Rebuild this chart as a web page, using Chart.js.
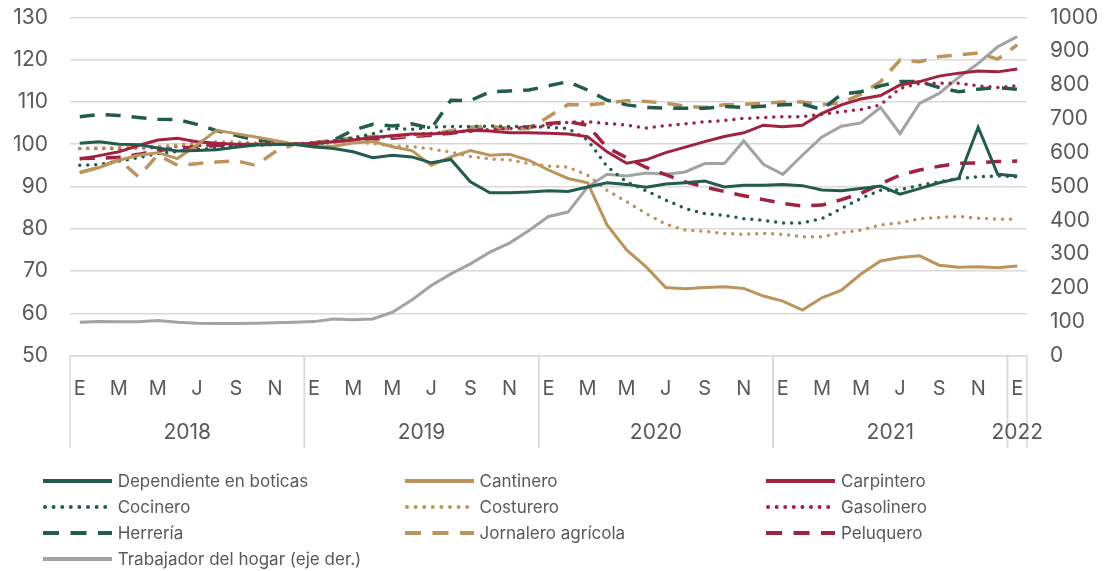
<!DOCTYPE html>
<html>
<head>
<meta charset="utf-8">
<script src="https://cdn.jsdelivr.net/npm/chart.js@4.4.1/dist/chart.umd.min.js"></script>
<style>
  html, body { margin: 0; padding: 0; background: #ffffff; }
  #wrap { position: relative; width: 1112px; height: 571px; overflow: hidden; }
  #chartBox { position: absolute; left: 0; top: 0; width: 1112px; height: 460px; }
  #legend { position: absolute; left: 0; top: 0; width: 1112px; height: 571px; pointer-events: none;
            font-family: Inter, "Open Sans", sans-serif; font-size: 17px; color: #595959; }
  .lg-item { position: absolute; height: 26px; display: flex; align-items: center; white-space: nowrap; }
  .lg-item svg { display: block; margin-right: 6px; }
</style>
</head>
<body>
<div id="wrap">
  <div id="chartBox"><canvas id="c"></canvas></div>
  <div id="legend"></div>
</div>
<script>
// ---------- data ----------
const monthLetters = ['E','F','M','A','M','J','J','A','S','O','N','D'];
const years = ['2018','2019','2020','2021','2022'];
const monthsInYear = [12, 12, 12, 12, 1];

const dependiente = [100.2,100.6,100,99.9,99.1,98.4,98.5,98.7,99.3,99.8,100,100,
  99.4,99,98.2,96.8,97.4,97,95.6,96.4,91.1,88.5,88.5,88.7,
  89,88.8,89.9,90.9,90.5,89.8,90.6,90.9,91.3,89.9,90.3,90.3,
  90.5,90.2,89.2,89,89.5,90.1,88.2,89.5,90.9,91.9,104,92.9,
  92.5];
const cantinero = [93.3,94.5,96.2,97.4,98,96.6,99.8,103.3,102.5,101.7,100.9,100,
  99.3,99.5,100.3,100.7,99.4,98.5,95,97,98.5,97.4,97.6,96.2,
  93.9,91.9,90.9,80.9,75,71,66.1,65.8,66.1,66.3,65.9,64.1,
  62.9,60.8,63.7,65.5,69.3,72.4,73.2,73.6,71.4,70.9,71,70.8,
  71.2];
const carpintero = [96.5,97.3,98.2,99.7,101,101.4,100.6,100.2,100,100,100,100,
  100.2,100.6,101,101.6,102,102.4,102.4,102.7,103.3,103.1,102.7,102.7,
  102.6,102.4,101.8,98.2,95.5,96.3,98,99.3,100.6,101.8,102.7,104.5,
  104.1,104.5,107.3,109.3,110.7,111.5,114,114.8,116.1,116.8,117.3,117.1,
  117.8];
const cocinero = [95,95.2,96,96.8,97.8,98.3,98.8,99.1,99.6,99.8,99.9,100,
  100.3,100.8,101.5,102.5,103.8,103.5,104,104.2,104.2,104.3,104.2,104.1,
  104,103.7,101,94.7,91.1,89,86.8,84.8,83.6,83.2,82.4,82,
  81.4,81.4,82.4,84.8,87.2,89.1,89.2,90.3,91.1,91.9,92.3,92.5,
  92.3];
const costurero = [99,99.1,99.2,99.3,99.5,99.8,100.3,100.5,100.5,100.3,100.1,100,
  100,100.3,100.5,100.2,99.6,99.4,98.9,98.1,97.1,96.5,96.3,95.4,
  94.8,94.6,92.7,89.1,86.4,83.6,81.1,79.7,79.4,78.9,78.7,78.9,
  78.7,78.1,78.1,79.1,79.7,80.9,81.4,82.4,82.7,82.9,82.5,82.3,
  82.2];
const gasolinero = [99,99,99,99.1,99.2,99.5,99.7,99.8,99.9,100,100,100,
  100.4,100.8,101.2,101.5,101.9,102.3,102.6,102.9,103.1,103.5,103.7,104,
  104.5,105.2,105.3,104.9,104.5,103.8,104.4,104.8,105.3,105.6,106.1,106.3,
  106.5,106.5,107.1,107.7,108.2,109.3,113.2,114.4,114.4,114.4,113.8,113.4,
  113.8];
const herreria = [106.5,107,106.8,106.3,105.9,105.8,104.7,103.2,102.1,101,100.3,100,
  99.8,101,103.3,104.7,104.3,104.8,103.7,110.4,110.3,112.4,112.6,112.8,
  113.8,114.8,112.8,110.4,109.3,108.7,108.5,108.5,108.5,108.9,108.7,109,
  109.3,109.5,108.2,111.8,112.4,113.8,114.8,114.8,113.4,112.4,113,113.4,
  113];
const jornalero = [93.3,94.5,96.4,92.3,97.5,95,95.4,95.8,96.1,95,98.2,100,
  100.4,101,101.5,101.8,101.8,102,102.5,103.2,104,104.3,103.6,103.7,
  106.5,109.4,109.3,109.7,110.3,110.1,109.7,109,108.7,109.3,109.4,109.7,
  110,110,109.3,109.8,111.8,114.8,119.9,119.5,120.7,121.1,121.6,120.1,
  123.5];
const peluquero = [96.6,96.7,96.9,97.6,98.5,99,99.4,99.7,99.8,99.9,100,100,
  100.3,100.7,101,101.2,101.4,101.8,102.1,102.6,103.1,103.9,103.7,104.1,
  104.9,105.3,104.5,99.2,96.8,94.5,92.8,91.1,89.9,88.8,87.8,86.9,
  86,85.4,85.6,86.9,88.4,90.6,92.7,93.9,94.8,95.5,95.6,95.9,
  96];
const trabajadorHogar = [99,100.7,100.5,100,103.7,98.7,95.8,94.8,94.8,95.8,97.7,98.7,
  100.7,108.6,106.6,108.6,128.3,164.9,207.3,241.9,271.5,306,332.7,370.2,
  411.6,424.5,498.5,536,531,540,536,543,567.6,567.6,634.7,565.6,
  536,592.3,646.6,678.2,688,733.5,656.5,745.3,775,822.3,863.8,913,
  942.7];

const leftTicks = { min: 50, max: 130, step: 10 };
const rightTicks = { min: 0, max: 1000, step: 100 };

// ---------- categories ----------
const categories = [];
years.forEach((yr, yi) => {
  for (let m = 0; m < monthsInYear[yi]; m++) {
    categories.push(monthLetters[m] + ' ' + yr);
  }
});

// ---------- styles ----------
const GREEN = '#235B4E', GOLD = '#BC955C', RED = '#9F2241', GRAY = '#A3A3A3';
const TXT = '#595959', GRID = '#D9D9D9';
const FONT = 'Inter, "Open Sans", sans-serif';
const DOT = [0, 8], DASH = [15, 11];

function ds(label, data, color, kind, axis) {
  return {
    label, data,
    borderColor: color, backgroundColor: color,
    borderWidth: kind === 'solid' ? 3 : 3.5,
    borderDash: kind === 'dot' ? DOT : (kind === 'dash' ? DASH : []),
    borderCapStyle: kind === 'dot' ? 'round' : 'butt',
    pointRadius: 0, pointHoverRadius: 0, tension: 0, fill: false,
    yAxisID: axis || 'y',
    _kind: kind
  };
}

const datasets = [
  ds('Dependiente en boticas', dependiente, GREEN, 'solid'),
  ds('Cantinero', cantinero, GOLD, 'solid'),
  ds('Carpintero', carpintero, RED, 'solid'),
  ds('Cocinero', cocinero, GREEN, 'dot'),
  ds('Costurero', costurero, GOLD, 'dot'),
  ds('Gasolinero', gasolinero, RED, 'dot'),
  ds('Herrería', herreria, GREEN, 'dash'),
  ds('Jornalero agrícola', jornalero, GOLD, 'dash'),
  ds('Peluquero', peluquero, RED, 'dash'),
  ds('Trabajador del hogar (eje der.)', trabajadorHogar, GRAY, 'solid', 'y2')
];

const yearAxisPlugin = {
  id: 'yearAxis',
  afterDraw(chart) {
    const { ctx, chartArea } = chart;
    const x = chart.scales.x;
    const half = (x.getPixelForValue(1) - x.getPixelForValue(0)) / 2;
    const top = chartArea.bottom;
    const bottom = top + 92;
    ctx.save();
    ctx.strokeStyle = GRID;
    ctx.lineWidth = 1.5;
    ctx.beginPath();
    ctx.moveTo(chartArea.left, top);
    ctx.lineTo(chartArea.right, top);
    ctx.stroke();
    let start = 0;
    ctx.fillStyle = TXT;
    ctx.font = '21px ' + FONT;
    ctx.textAlign = 'center';
    ctx.textBaseline = 'middle';
    years.forEach((yr, yi) => {
      const end = start + monthsInYear[yi] - 1;
      const l = x.getPixelForValue(start) - half;
      const r = x.getPixelForValue(end) + half;
      ctx.beginPath();
      ctx.moveTo(l, top); ctx.lineTo(l, bottom);
      ctx.moveTo(r, top); ctx.lineTo(r, bottom);
      ctx.stroke();
      ctx.fillText(yr, (l + r) / 2, top + 77);
      start = end + 1;
    });
    ctx.restore();
  }
};

Chart.defaults.font.family = FONT;
Chart.defaults.color = TXT;

function fixVertical(width) {
  return function (s) { s.width = width; s.paddingTop = 0; s.paddingBottom = 0; };
}

const chart = new Chart(document.getElementById('c'), {
  type: 'line',
  data: { labels: categories, datasets },
  options: {
    responsive: true,
    maintainAspectRatio: false,
    animation: false,
    layout: { padding: { top: 17.3, left: 0, right: 0, bottom: 0 } },
    plugins: { legend: { display: false }, tooltip: { enabled: false } },
    scales: {
      x: {
        offset: true,
        grid: { display: false },
        border: { display: false },
        ticks: {
          autoSkip: false, maxRotation: 0, minRotation: 0,
          padding: 13,
          font: { size: 20 }, color: TXT,
          callback: (v, i) => (i % 12) % 2 === 0 ? monthLetters[i % 12] : ''
        },
        afterFit(s) { s.height = 104.3; }
      },
      y: {
        position: 'left',
        min: leftTicks.min, max: leftTicks.max,
        ticks: { stepSize: leftTicks.step, padding: 22, font: { size: 21 }, color: TXT,
                 callback: v => String(v) },
        grid: { color: GRID, lineWidth: 1.5, drawTicks: false },
        border: { display: false },
        afterFit: fixVertical(70)
      },
      y2: {
        position: 'right',
        min: rightTicks.min, max: rightTicks.max,
        ticks: { stepSize: rightTicks.step, padding: 23, font: { size: 21 }, color: TXT,
                 callback: v => String(v) },
        grid: { drawOnChartArea: false, drawTicks: false },
        border: { display: false },
        afterFit: fixVertical(85)
      }
    }
  },
  plugins: [yearAxisPlugin]
});

// ---------- HTML legend built from the chart's datasets ----------
const legendEl = document.getElementById('legend');
const colX = [42.7, 404.5, 766];
const rowY = [480.7, 506.8, 532.7, 558.8];
chart.data.datasets.forEach((d, i) => {
  const col = i % 3, row = Math.floor(i / 3);
  const item = document.createElement('div');
  item.className = 'lg-item';
  item.style.left = colX[col] + 'px';
  item.style.top = (rowY[row] - 13) + 'px';
  let dash = '', cap = 'butt';
  if (d._kind === 'dot') { dash = 'stroke-dasharray="0 8.6"'; cap = 'round'; }
  if (d._kind === 'dash') { dash = 'stroke-dasharray="16 11.5"'; }
  const x1 = d._kind === 'dot' ? 2 : 0, x2 = d._kind === 'dot' ? 68 : 69;
  item.innerHTML = '<svg width="69" height="10" viewBox="0 0 69 10">' +
    '<line x1="' + x1 + '" y1="5" x2="' + x2 + '" y2="5" stroke="' + d.borderColor + '" stroke-width="4" stroke-linecap="' + cap + '" ' + dash + '/></svg>' +
    '<span>' + d.label + '</span>';
  legendEl.appendChild(item);
});
</script>
</body>
</html>
